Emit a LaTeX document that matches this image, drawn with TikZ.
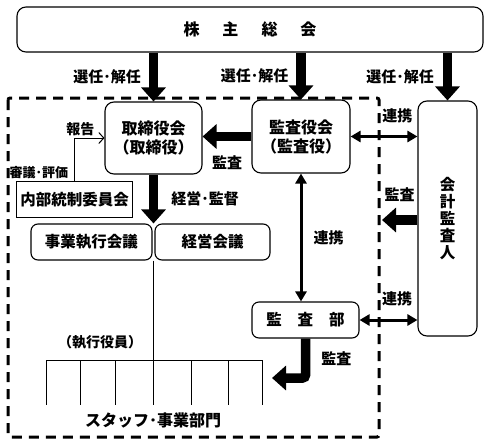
\documentclass[tikz,border=0pt]{standalone}
\usepackage{fontspec}
\setmainfont{Noto Sans CJK JP}
\usetikzlibrary{arrows.meta,positioning}

\begin{document}
\begin{tikzpicture}[x=1pt,y=-1pt,
      box_round/.style={
         draw=black,
         fill=white,
         line width=1.1pt,
         rounded corners=9pt,
         inner sep=0pt,
         align=center,
         font=\fontsize{16}{19}\selectfont\bfseries},
      box_plain/.style={
         draw=black,
         fill=white,
         line width=1pt,
         inner sep=0pt,
         font=\fontsize{15.5}{19}\selectfont\bfseries},
      label_txt/.style={
         inner sep=1pt,
         font=\fontsize{15}{17}\selectfont\bfseries},
      arrow_thick/.style={
        -{Triangle[width=24pt,length=14pt]},
        line width=9.5pt,
        },
      arrow_both/.style={
        {Triangle[width=11pt,length=10pt]}-{Triangle[width=11pt,length=10pt]},
        line width=3pt,
        },
      line_thin/.style={
        line width=1pt,
        },
      frame_dash/.style={
        line width=3pt,
        dash pattern=on 10pt off 7pt,
        rounded corners=2pt,
        }
]
      \useasboundingbox (0,0) rectangle (493,445);

      %group frame
      \draw[frame_dash] (8,98) rectangle (379,437);

      %boxes
      \node[box_round,minimum width=466pt,minimum height=45pt] (gm) at (250,29.5)
           {株\hspace{23pt}主\hspace{23pt}総\hspace{23pt}会};
      \node[box_round,minimum width=97pt,minimum height=72pt] (bod) at (153.5,138) {取締役会\\（取締役）};
      \node[box_round,minimum width=98pt,minimum height=73pt] (kan) at (301,136.5) {監査役会\\（監査役）};
      \node[box_round,minimum width=59pt,minimum height=235pt,font=\fontsize{15.5}{17}\selectfont\bfseries] (aud) at (447.5,218.5)
           {会\\計\\監\\査\\人};
      \node[box_round,rounded corners=7pt,minimum width=107pt,minimum height=36pt,font=\fontsize{15.5}{19}\selectfont\bfseries] (iad) at (305.5,320)
           {監\hspace{16pt}査\hspace{16pt}部};
      \node[box_plain,minimum width=116pt,minimum height=36pt] (icc) at (74.5,199.5) {内部統制委員会};
      \node[box_round,rounded corners=7pt,minimum width=121pt,minimum height=36pt,font=\fontsize{15.5}{19}\selectfont\bfseries] (exec) at (91.5,242) {事業執行会議};
      \node[box_round,rounded corners=7pt,minimum width=115pt,minimum height=36pt,font=\fontsize{15.5}{19}\selectfont\bfseries] (mgmt) at (212.5,242) {経営会議};

      %free ends
      \coordinate (aud_tip) at (382,220);
      \coordinate (iad_tip) at (272,378);

      %execution tree
      \coordinate (comb_l) at (46,360);
      \coordinate (comb_r) at (262,360);
      \draw[line_thin] (bod.south |- exec.south) -- (bod.south |- 0,405);
      \draw[line_thin] (comb_l) -- (comb_r);
      \foreach \x [count=\k] in {46,80,115,191,228,262}{
        \coordinate (leg\k) at (\x,360);
        \coordinate (foot\k) at (\x,405);
        \draw[line_thin] (leg\k) -- (foot\k);
      }
      \node[label_txt,font=\fontsize{14}{16}\selectfont\bfseries] (officer) at (100,342) {（執行役員）};
      \node[label_txt,font=\fontsize{16}{18}\selectfont\bfseries] (staff) at (153,420) {スタッフ･事業部門};

    \foreach \i/\j/\txt/\p/\d in {% start/end/text/position/distance
       gm.south -| bod.north/bod.north/選任･解任/left/7pt,
       gm.south -| kan.north/kan.north/選任･解任/left/7pt,
       gm.south -| aud.north/aud.north/選任･解任/left/8pt,
       kan.west/kan.west -| bod.east/監査/below/13pt,
       bod.south/bod.south |- exec.north/経営･監督/right/12pt,
       aud.west |- aud_tip/aud_tip/監査/above/13pt}
       \draw [arrow_thick] (\i) -- node[label_txt,\p=\d] {\txt} (\j);

      \draw [arrow_thick,rounded corners=3pt] (iad.south) |- node[label_txt,pos=0.25,right=10pt] {監査} (iad_tip);

     \foreach \i/\j/\q/\p/\d in {
       kan.east/kan.east -| aud.west/0.7/above/11pt,
       iad.east/iad.east -| aud.west/0.65/above/12pt,
       kan.south/kan.south |- iad.north/0.5/right/10pt}
       \draw [arrow_both] (\i) -- node[label_txt,pos=\q,\p=\d] {連携} (\j);

      %report line
      \draw[line_thin,-{Straight Barb[length=5pt,width=11pt]}] (icc.north) |-
           node[label_txt,pos=0.1,left=5pt,font=\fontsize{13}{15}\selectfont\bfseries] {審議･評価}
           node[label_txt,pos=0.6,above=1pt,font=\fontsize{14}{16}\selectfont\bfseries] {報告} (bod.west);
\end{tikzpicture}
\end{document}
